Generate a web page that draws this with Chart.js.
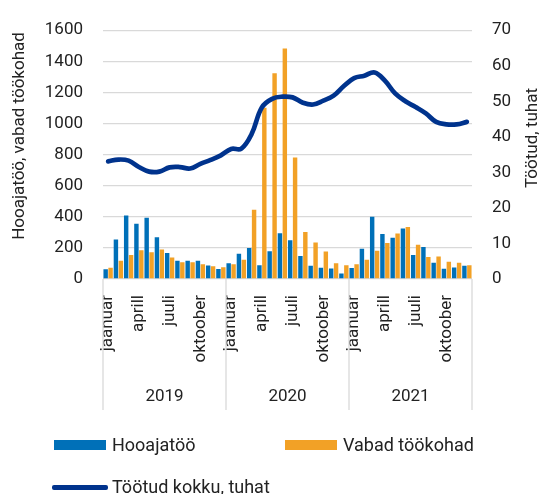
<!DOCTYPE html>
<html lang="et">
<head>
    <meta charset="UTF-8">
    <title>Hooajatöö, vabad töökohad ja töötud</title>
    <script src="https://cdn.jsdelivr.net/npm/chart.js@4.4.0/dist/chart.umd.min.js"></script>
    <style>
        body {
            margin: 0;
            font-family: Roboto, Arial, sans-serif;
            color: #222;
            background: #fff;
        }
        #wrap {
            position: relative;
            width: 543px;
            height: 494px;
            overflow: hidden;
        }
        .legend-item {
            position: absolute;
            font-size: 18px;
            line-height: 20px;
            white-space: nowrap;
        }
        .swatch {
            position: absolute;
        }
    </style>
</head>
<body>
    <div id="wrap">
        <canvas id="chart" width="543" height="494"></canvas>
        <div class="swatch" style="left:54px; top:440px; width:52px; height:10px; background:#0070b8;"></div>
        <div class="legend-item" style="left:112px; top:435px;">Hooajatöö</div>
        <div class="swatch" style="left:285px; top:440px; width:52px; height:10px; background:#f2a126;"></div>
        <div class="legend-item" style="left:343px; top:435px;">Vabad töökohad</div>
        <div class="swatch" style="left:52px; top:485px; width:56px; height:4.5px; border-radius:2px; background:#00338d;"></div>
        <div class="legend-item" style="left:112px; top:477px;">Töötud kokku, tuhat</div>
    </div>

    <script>
        const years = ['2019', '2020', '2021'];
        const monthTicks = ['jaanuar', '', '', 'aprill', '', '', 'juuli', '', '', 'oktoober', '', ''];

        // Hooajatöö (vasak telg)
        const hooajatoo = [
            63, 254, 408, 355, 394, 269, 167, 118, 118, 118, 87, 64,
            101, 163, 200, 89, 179, 295, 250, 148, 85, 72, 68, 35,
            70, 194, 400, 289, 266, 324, 155, 206, 105, 66, 74, 85
        ];
        // Vabad töökohad (vasak telg)
        const vabadTookohad = [
            72, 117, 154, 185, 172, 190, 138, 107, 107, 95, 82, 76,
            95, 124, 445, 1102, 1323, 1483, 782, 302, 235, 177, 101, 89,
            95, 124, 181, 231, 293, 334, 221, 142, 144, 111, 105, 89
        ];
        // Töötud kokku, tuhat (parem telg)
        const tootud = [
            33.1, 33.6, 33.3, 31.5, 30.2, 30.2, 31.4, 31.5, 31.1, 32.4, 33.5, 34.8,
            36.6, 36.7, 40.8, 48.3, 50.7, 51.3, 51.1, 49.6, 49.1, 50.2, 51.6, 54.3,
            56.5, 57.2, 58.1, 55.8, 52.2, 50.0, 48.4, 46.6, 44.2, 43.5, 43.5, 44.2
        ];

        const labels = [];
        years.forEach(y => monthTicks.forEach(m => labels.push(m)));

        const textColor = '#222';
        const font = { family: 'Roboto, Arial, sans-serif', size: 17 };

        // year row under the month labels + rotated axis titles
        const extrasPlugin = {
            id: 'extras',
            afterDraw(chart) {
                const ctx = chart.ctx;
                const x = chart.scales.x;
                const area = chart.chartArea;
                ctx.save();
                ctx.strokeStyle = '#d9d9d9';
                ctx.lineWidth = 1.3;
                for (let i = 0; i <= years.length; i++) {
                    const px = Math.round(x.getPixelForValue(i * 12 - 0.5));
                    ctx.beginPath();
                    ctx.moveTo(px, area.bottom);
                    ctx.lineTo(px, x.bottom);
                    ctx.stroke();
                }
                ctx.fillStyle = textColor;
                ctx.font = `${font.size}px ${font.family}`;
                ctx.textAlign = 'center';
                ctx.textBaseline = 'middle';
                years.forEach((yr, i) => {
                    const a = x.getPixelForValue(i * 12 - 0.5);
                    const b = x.getPixelForValue(i * 12 + 11.5);
                    ctx.fillText(yr, (a + b) / 2, x.bottom - 13);
                });

                // axis titles, both read bottom to top
                ctx.translate(20, 136);
                ctx.rotate(-Math.PI / 2);
                ctx.fillText('Hooajatöö, vabad töökohad', 0, 0);
                ctx.rotate(Math.PI / 2);
                ctx.translate(-20, -136);
                ctx.translate(533, 138);
                ctx.rotate(-Math.PI / 2);
                ctx.fillText('Töötud, tuhat', 0, 0);
                ctx.restore();
            }
        };

        const ctx = document.getElementById('chart').getContext('2d');
        const chart = new Chart(ctx, {
            type: 'bar',
            data: {
                labels: labels,
                datasets: [{
                    type: 'line',
                    label: 'Töötud kokku, tuhat',
                    data: tootud,
                    yAxisID: 'y2',
                    borderColor: '#00338d',
                    borderWidth: 4.7,
                    pointRadius: 0,
                    tension: 0.4,
                    borderCapStyle: 'round',
                    order: 0
                }, {
                    label: 'Hooajatöö',
                    data: hooajatoo,
                    yAxisID: 'y',
                    backgroundColor: '#0070b8',
                    categoryPercentage: 0.96,
                    barPercentage: 0.9,
                    order: 1
                }, {
                    label: 'Vabad töökohad',
                    data: vabadTookohad,
                    yAxisID: 'y',
                    backgroundColor: '#f2a126',
                    categoryPercentage: 0.96,
                    barPercentage: 0.9,
                    order: 2
                }]
            },
            options: {
                responsive: false,
                animation: false,
                layout: {
                    padding: { top: 19, bottom: 84, left: 0, right: 0 }
                },
                plugins: {
                    legend: { display: false },
                    tooltip: { enabled: false }
                },
                scales: {
                    x: {
                        grid: { display: false },
                        border: { display: false },
                        ticks: {
                            autoSkip: false,
                            minRotation: 90,
                            maxRotation: 90,
                            padding: 8,
                            color: textColor,
                            font: font
                        },
                        afterFit(scale) { scale.height = 131; }
                    },
                    y: {
                        position: 'left',
                        min: 0,
                        max: 1600,
                        ticks: {
                            stepSize: 200,
                            padding: 20,
                            color: textColor,
                            font: font,
                            callback: v => String(v)
                        },
                        grid: {
                            color: '#d9d9d9',
                            lineWidth: 1.3,
                            drawTicks: false
                        },
                        border: { display: false },
                        afterFit(scale) { scale.width = 103; }
                    },
                    y2: {
                        position: 'right',
                        min: 0,
                        max: 70,
                        ticks: {
                            stepSize: 10,
                            padding: 20,
                            color: textColor,
                            font: font,
                            callback: v => String(v)
                        },
                        grid: { display: false, drawTicks: false },
                        border: { display: false },
                        afterFit(scale) { scale.width = 71; }
                    }
                }
            },
            plugins: [extrasPlugin]
        });
    </script>
</body>
</html>
